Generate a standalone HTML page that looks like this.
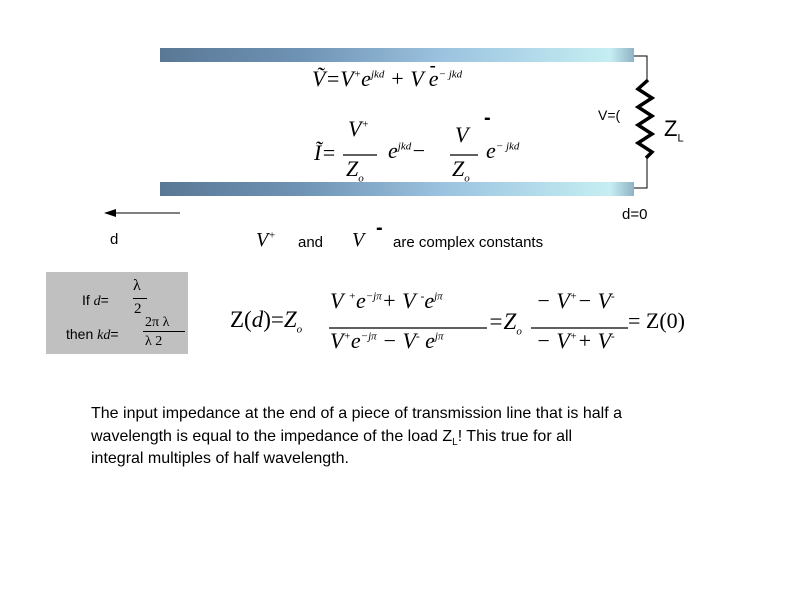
<!DOCTYPE html>
<html><head><meta charset="utf-8"><style>
body{margin:0;width:800px;height:600px;background:#fff;position:relative;overflow:hidden;font-family:"Liberation Sans",sans-serif;color:#000}
.a{position:absolute;white-space:nowrap;line-height:1}
.s{font-family:"Liberation Serif",serif;font-style:italic}
.bar{position:absolute;left:160px;width:474px;height:14px;background:linear-gradient(90deg,#5a7896 0%,#6f93b4 30%,#9cc3e0 60%,#c5eef2 95%,#8fb3c6 100%);}
sup,sub{font-size:11px;line-height:0}
</style></head><body>
<div class="bar" style="top:48px"></div>
<div class="bar" style="top:182px"></div>
<svg class="a" style="left:0;top:0" width="800" height="600">
<polyline points="634,56 647,56 647,80" fill="none" stroke="#000" stroke-width="1"/>
<polyline points="647,158 647,188 634,188" fill="none" stroke="#000" stroke-width="1"/>
<polyline points="648,80 638,89 652,98 638,107 652,116 638,125 652,134 638,143 652,152 646,158" fill="none" stroke="#000" stroke-width="3.5" stroke-linejoin="miter"/>
<line x1="180" y1="213" x2="112" y2="213" stroke="#000" stroke-width="1"/>
<polygon points="104,213 116,209 116,217" fill="#000"/>
<line x1="329" y1="328" x2="487" y2="328" stroke="#000" stroke-width="1.3"/>
<line x1="531" y1="328" x2="628" y2="328" stroke="#000" stroke-width="1.3"/>
<line x1="343" y1="155" x2="377" y2="155" stroke="#000" stroke-width="1.3"/>
<line x1="450" y1="155" x2="478" y2="155" stroke="#000" stroke-width="1.3"/>
</svg>
<div class="a s" style="left:312px;top:68px;font-size:22px">Ṽ=V<sup>+</sup>e<sup>jkd</sup> + V <span style="position:relative">e<span style="position:absolute;left:1px;top:-10px;font-style:normal;font-weight:bold;font-size:18px">-</span></span><sup>− jkd</sup></div>
<div class="a s" style="left:314px;top:142px;font-size:22px">Ĩ=</div>
<div class="a s" style="left:348px;top:118px;font-size:22px">V<sup>+</sup></div>
<div class="a s" style="left:346px;top:158px;font-size:22px">Z<sub>o</sub></div>
<div class="a s" style="left:388px;top:140px;font-size:22px">e<sup>jkd</sup>−</div>
<div class="a s" style="left:455px;top:124px;font-size:22px">V</div>
<div class="a" style="left:484px;top:108px;font-size:20px;font-weight:bold">-</div>
<div class="a s" style="left:452px;top:158px;font-size:22px">Z<sub>o</sub></div>
<div class="a s" style="left:486px;top:140px;font-size:22px">e<sup>− jkd</sup></div>
<div class="a" style="left:598px;top:108px;font-size:14px">V=(</div>
<div class="a" style="left:664px;top:118px;font-size:22px">Z<sub>L</sub></div>
<div class="a" style="left:622px;top:207px;font-size:15px">d=0</div>
<div class="a" style="left:110px;top:232px;font-size:15px">d</div>
<div class="a s" style="left:256px;top:230px;font-size:20px">V<sup>+</sup></div>
<div class="a" style="left:298px;top:235px;font-size:15px">and</div>
<div class="a s" style="left:352px;top:230px;font-size:20px">V</div>
<div class="a" style="left:376px;top:218px;font-size:20px;font-weight:bold">-</div>
<div class="a" style="left:393px;top:235px;font-size:15px">are complex constants</div>
<div class="a" style="left:46px;top:272px;width:142px;height:82px;background:#c0c0c0"></div>
<div class="a" style="left:82px;top:293px;font-size:14px">If <span class="s">d</span>=</div>
<div class="a s" style="left:133px;top:278px;font-size:16px;font-style:normal">λ</div>
<div class="a" style="left:133px;top:298px;width:14px;border-top:1px solid #000"></div>
<div class="a" style="left:134px;top:302px;font-size:15px;font-family:'Liberation Serif',serif">2</div>
<div class="a" style="left:66px;top:327px;font-size:14px">then <span class="s">kd</span>=</div>
<div class="a" style="left:145px;top:316px;font-size:14px;font-family:'Liberation Serif',serif">2π λ</div>
<div class="a" style="left:143px;top:331px;width:42px;border-top:1px solid #000"></div>
<div class="a" style="left:145px;top:335px;font-size:14px;font-family:'Liberation Serif',serif">λ  2</div>
<div class="a s" style="left:230px;top:308px;font-size:23px;font-style:normal;font-family:'Liberation Serif',serif">Z(<i>d</i>)=<i>Z<sub>o</sub></i></div>
<div class="a s" style="left:330px;top:290px;font-size:22px">V <sup>+</sup>e<sup>−jπ</sup>+ V <sup style="font-style:normal;font-weight:bold">-</sup>e<sup>jπ</sup></div>
<div class="a s" style="left:330px;top:330px;font-size:22px">V<sup>+</sup>e<sup>−jπ</sup> − V<sup style="font-style:normal;font-weight:bold">-</sup> e<sup>jπ</sup></div>
<div class="a s" style="left:488px;top:310px;font-size:23px">=Z<sub>o</sub></div>
<div class="a s" style="left:536px;top:290px;font-size:22px">− V<sup>+</sup>− V<sup style="font-style:normal;font-weight:bold">-</sup></div>
<div class="a s" style="left:536px;top:330px;font-size:22px">− V<sup>+</sup>+ V<sup style="font-style:normal;font-weight:bold">-</sup></div>
<div class="a" style="left:628px;top:310px;font-size:22px;font-family:'Liberation Serif',serif">= Z(0)</div>
<div class="a" style="left:91px;top:403px;font-size:16px;line-height:22.5px">The input impedance at the end of a piece of transmission line that is half a<br>wavelength is equal to the impedance of the load Z<sub style="font-size:10px;vertical-align:-4px">L</sub>!  This true for all<br>integral multiples of half wavelength.</div>
</body></html>
